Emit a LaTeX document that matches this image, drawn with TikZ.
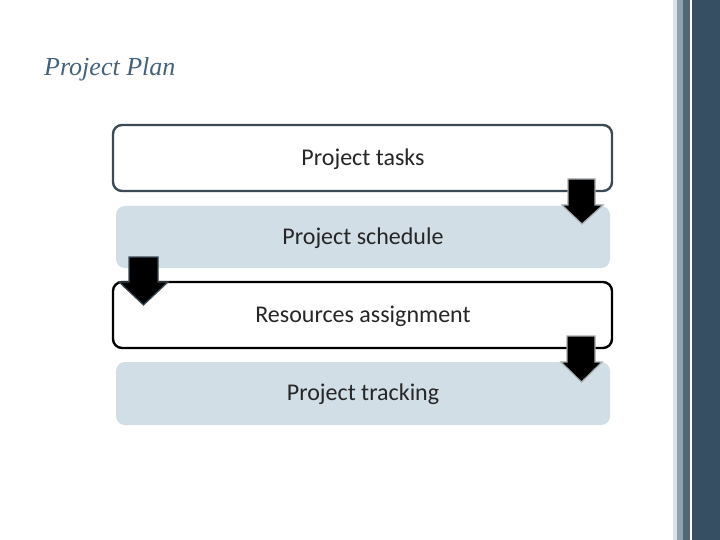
\documentclass[tikz,border=0pt]{standalone}
\usepackage{fontspec}
\setmainfont{Carlito}
\newfontfamily\titlefont{Liberation Serif}
\begin{document}
\begin{tikzpicture}[x=1pt,y=-1pt,
  outbox/.style={draw=#1,line width=2.4pt,rounded corners=9pt,fill=white},
  fillbox/.style={fill=boxblue,rounded corners=9pt},
  lbl/.style={font=\fontsize{24}{28}\selectfont,text=txtgray},
  arrowshape/.style={fill=black,draw=#1,line width=1.2pt,line join=miter}]
\definecolor{boxblue}{HTML}{D1DEE6}
\definecolor{slate}{HTML}{3B4A54}
\definecolor{txtgray}{HTML}{262626}
\definecolor{titlecol}{HTML}{45627A}
\definecolor{stripeA}{HTML}{DCE2E6}
\definecolor{stripeB}{HTML}{8FA2AD}
\definecolor{stripeC}{HTML}{50697A}
\definecolor{stripeD}{HTML}{364F63}
\definecolor{shadowgray}{HTML}{A6ABAE}
\useasboundingbox (0,0) rectangle (720,540);
\fill[white] (0,0) rectangle (720,540);
% right stripes
\fill[stripeA] (672.7,0) rectangle (677.3,540);
\fill[stripeB] (677.3,0) rectangle (683.3,540);
\fill[stripeC] (683.3,0) rectangle (690,540);
\fill[stripeD] (692,0) rectangle (720,540);
% title
\node[anchor=base west,text=titlecol,font=\titlefont\itshape\fontsize{26}{30}\selectfont,inner sep=0pt] (title) at (44,76) {Project Plan};
% boxes
\draw[outbox=slate] (113,125) rectangle (612,191);
\node[lbl] (t1) at (363,159) {Project tasks};
\fill[fillbox] (116,206) rectangle (610,268);
\node[lbl] (t2) at (363,238) {Project schedule};
\draw[outbox=black] (113,282) rectangle (612,348);
\node[lbl] (t3) at (363,316) {Resources assignment};
\fill[fillbox] (116,362) rectangle (610,425);
\node[lbl] (t4) at (363,394) {Project tracking};
% arrows
\draw[arrowshape=shadowgray] (568,179) -- (595,179) -- (595,205) -- (603,205) -- (582,224) -- (562,205) -- (568,205) -- cycle;
\draw[arrowshape=slate] (129,257) -- (158,257) -- (158,282) -- (168,282) -- (143.5,305) -- (119,282) -- (129,282) -- cycle;
\draw[arrowshape=shadowgray] (567,336) -- (595,336) -- (595,362) -- (602,362) -- (581.5,382) -- (561,362) -- (567,362) -- cycle;
\end{tikzpicture}
\end{document}
